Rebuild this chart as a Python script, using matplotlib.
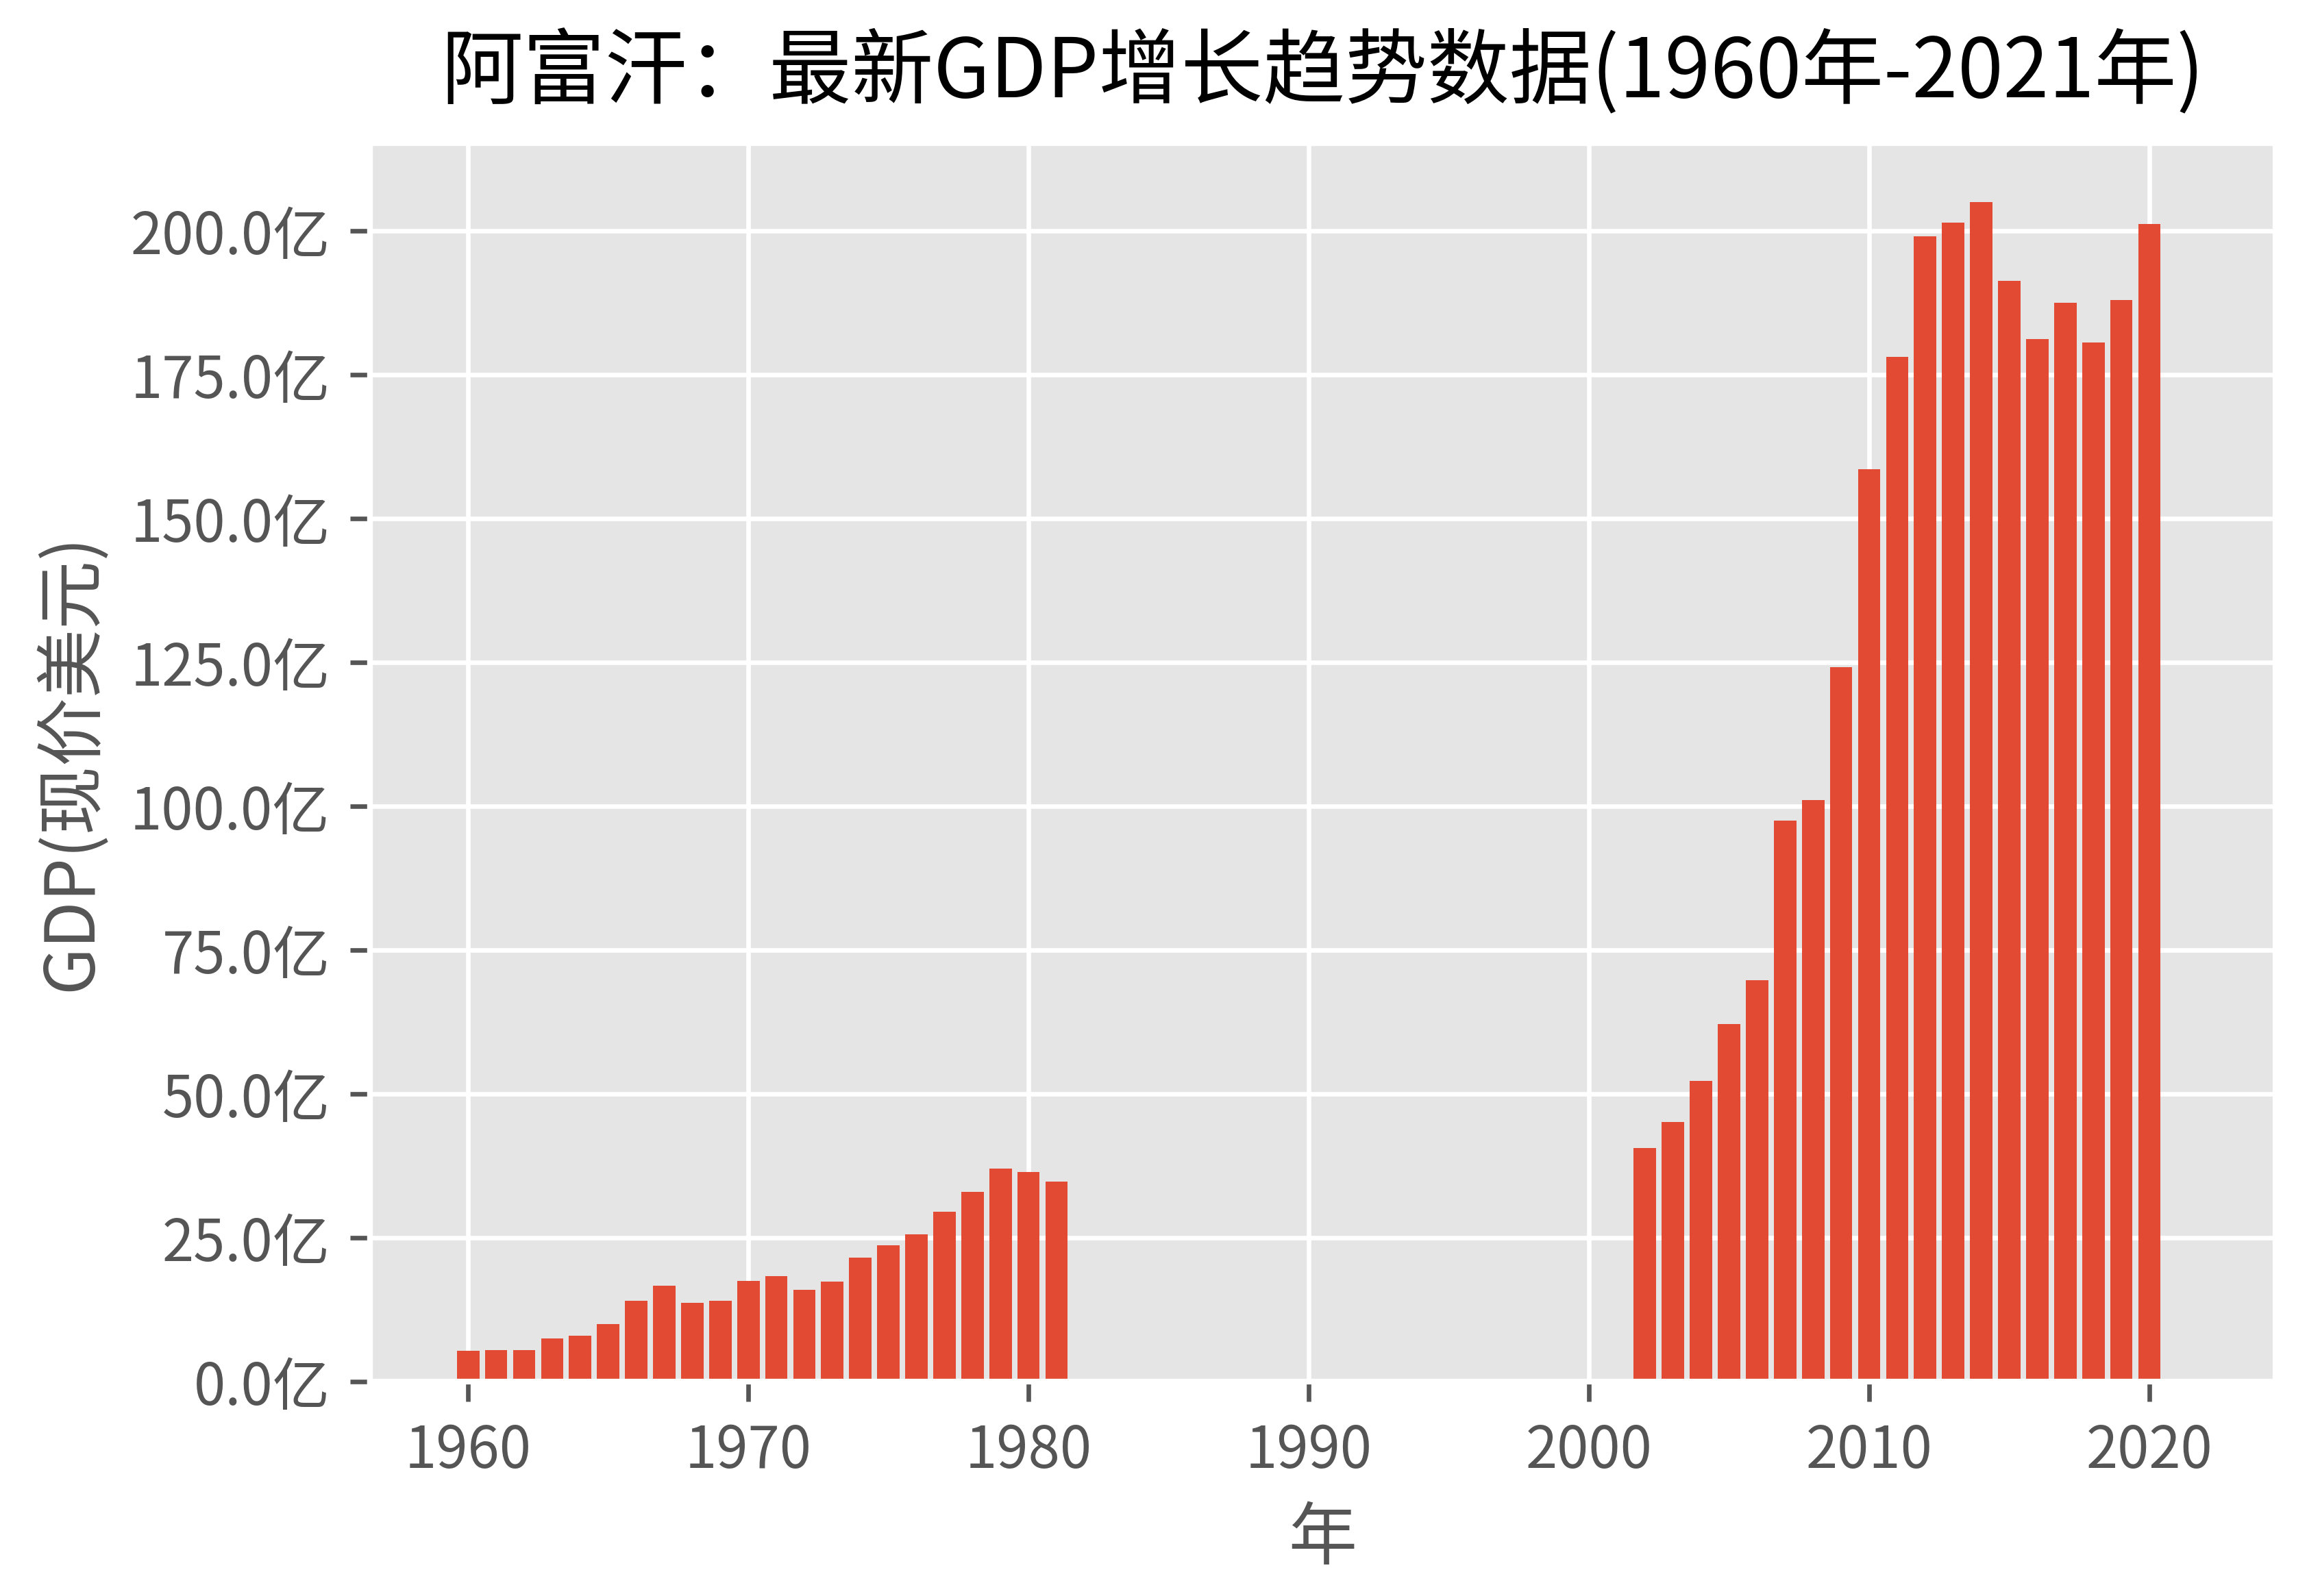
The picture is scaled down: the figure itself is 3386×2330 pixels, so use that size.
import matplotlib
matplotlib.use("Agg")
import matplotlib.pyplot as plt
from matplotlib.ticker import FuncFormatter, MultipleLocator

plt.style.use("ggplot")
plt.rcParams["font.family"] = ["Noto Sans CJK SC", "DejaVu Sans"]
plt.rcParams["axes.unicode_minus"] = False

# 阿富汗 GDP (亿美元)
years_a = list(range(1960, 1982))
gdp_a = [5.37, 5.49, 5.47, 7.51, 8.00, 10.06, 14.00, 16.73, 13.73, 14.08, 17.49,
         18.32, 15.96, 17.33, 21.55, 23.67, 25.56, 29.53, 33.00, 36.98, 36.42, 34.78]
years_b = list(range(2002, 2021))
gdp_b = [40.55, 45.16, 52.27, 62.09, 69.71, 97.48, 101.09, 124.16, 158.56, 178.05,
         199.07, 201.46, 204.97, 191.34, 181.17, 187.53, 180.53, 187.99, 201.16]

years = years_a + years_b
gdp = gdp_a + gdp_b

fig = plt.figure(figsize=(3386 / 600, 2330 / 600), dpi=600)
ax = fig.add_axes([0.1595, 0.1343, 0.8213, 0.776])

ax.bar(years, gdp, width=0.8, color="#E24A33")

ax.set_xlim(1956.5, 2024.5)
ax.yaxis.set_major_locator(MultipleLocator(25))
ax.yaxis.set_major_formatter(FuncFormatter(lambda v, p: f"{v:.1f}亿"))

ax.set_title("阿富汗：最新GDP增长趋势数据(1960年-2021年)", fontsize=14.4, color="black", pad=8)
ax.set_xlabel("年", fontsize=12)
ax.set_ylabel("GDP(现价美元)", fontsize=12)
ax.tick_params(labelsize=10)

fig.savefig("out.png", dpi=600)
